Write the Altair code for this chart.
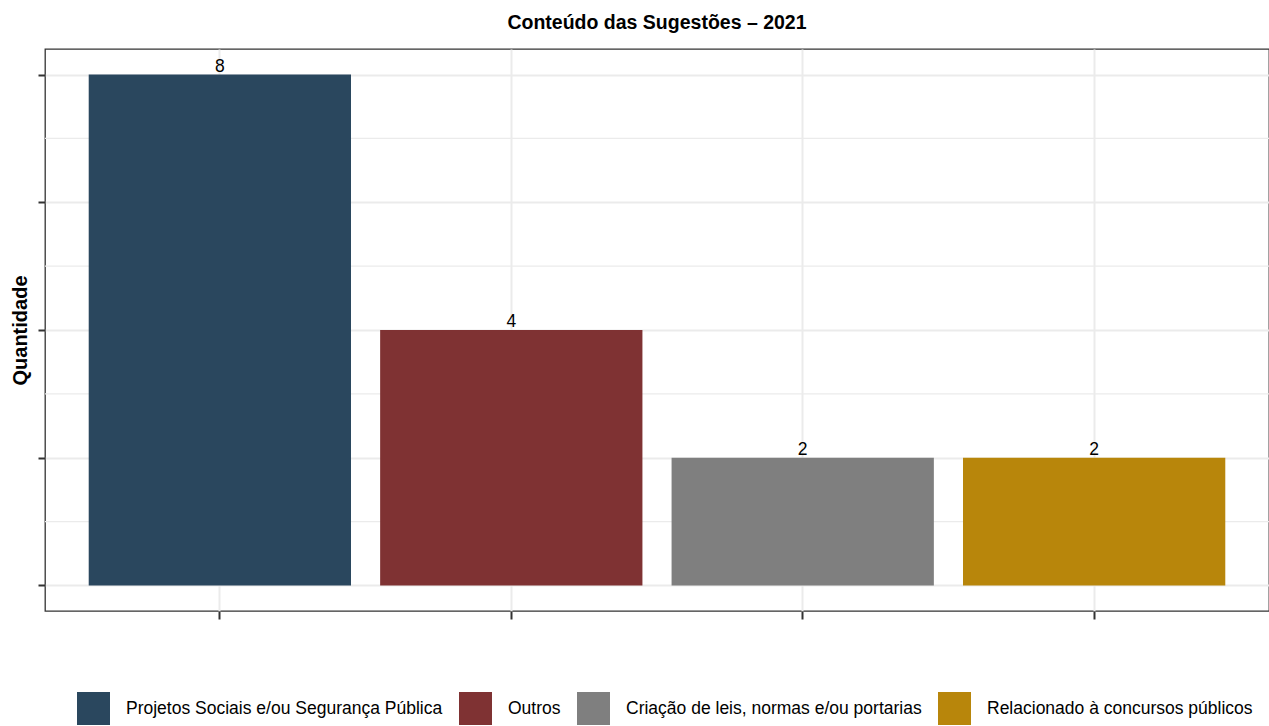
import altair as alt
import pandas as pd

# Suggestion content counts for 2021
categorias = [
    "Projetos Sociais e/ou Segurança Pública",
    "Outros",
    "Criação de leis, normas e/ou portarias",
    "Relacionado à concursos públicos",
]
quantidades = [8, 4, 2, 2]
cores = ["#2A475E", "#7F3233", "#7F7F7F", "#B8860B"]

ticks_maiores = [0, 2, 4, 6, 8]
grade_menor = [1, 3, 5, 7]

df = pd.DataFrame({"categoria": categorias, "quantidade": quantidades})
df_menor = pd.DataFrame({"v": grade_menor})

FONT = "Liberation Sans"
W, H = 1224, 562
GRID = "#EBEBEB"
INK = "#333333"

y_scale = alt.Scale(domain=[-0.4, 8.4], nice=False, zero=False)
x_scale = alt.Scale(domain=categorias, paddingInner=0.1, paddingOuter=0.15)

x_axis = alt.Axis(
    labels=False, title=None, domain=False,
    tickSize=8, tickWidth=2, tickColor=INK,
    grid=True, gridColor=GRID, gridWidth=2, bandPosition=0.5,
)
y_axis = alt.Axis(
    values=ticks_maiores, labels=False, domain=False,
    tickSize=7, tickWidth=2, tickColor=INK,
    grid=True, gridColor=GRID, gridWidth=2,
    title="Quantidade", titleFont=FONT, titleFontSize=20,
    titleFontWeight="bold", titleColor="#000000",
    titlePadding=11, titleBaseline="alphabetic",
)

# minor horizontal grid lines between the major ones
minor = alt.Chart(df_menor).mark_rule(color=GRID, strokeWidth=1.2).encode(
    y=alt.Y("v:Q", scale=y_scale, axis=y_axis)
)

bars = alt.Chart(df).mark_bar().encode(
    x=alt.X("categoria:N", scale=x_scale, sort=categorias, axis=x_axis),
    y=alt.Y("quantidade:Q", scale=y_scale, axis=y_axis),
    y2=alt.datum(0),
    color=alt.Color(
        "categoria:N",
        scale=alt.Scale(domain=categorias, range=cores),
        legend=alt.Legend(
            title=None, orient="none", legendX=32, legendY=643,
            direction="horizontal", columns=4,
            symbolType="square", symbolSize=1089, symbolStrokeWidth=0,
            symbolOpacity=1,
            labelFont=FONT, labelFontSize=17.5, labelColor="#000000",
            labelOffset=16, columnPadding=16, padding=0, labelLimit=1000,
        ),
    ),
)

labels = alt.Chart(df).mark_text(
    dy=-3, baseline="alphabetic", fontSize=17.5, font=FONT, color="#000000"
).encode(
    x=alt.X("categoria:N", scale=x_scale, sort=categorias, axis=x_axis),
    y=alt.Y("quantidade:Q", scale=y_scale, axis=y_axis),
    text="quantidade:Q",
)

chart = (
    alt.layer(minor, bars, labels)
    .properties(
        width=W,
        height=H,
        title=alt.TitleParams(
            "Conteúdo das Sugestões – 2021",
            font=FONT, fontSize=19.5, fontWeight="bold", color="#000000",
            anchor="middle", offset=1, baseline="alphabetic",
        ),
        autosize=alt.AutoSizeParams(type="none"),
        padding={"left": 45, "top": 49, "right": 0, "bottom": 115},
        background="white",
    )
    .configure_view(stroke=INK, strokeWidth=1.3)
)

chart.save("out.html", embed_options={"renderer": "svg", "actions": False})
